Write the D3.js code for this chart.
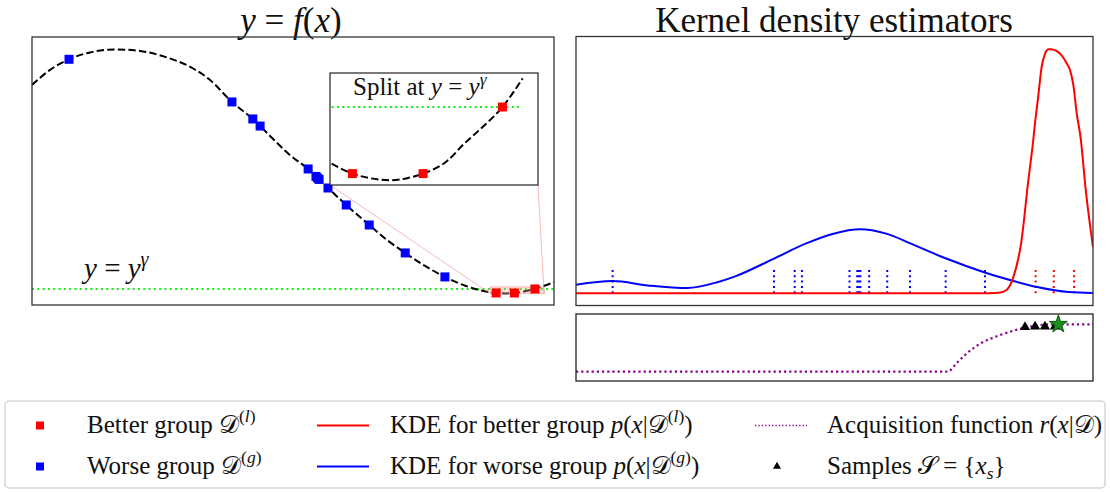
<!DOCTYPE html>
<html>
<head>
<meta charset="utf-8">
<script src="https://cdn.jsdelivr.net/npm/d3@7"></script>
<style>
  body { margin: 0; background: #fff; }
  text { font-family: "Liberation Serif", "Times New Roman", serif; fill: #111; white-space: pre; }
</style>
</head>
<body>
<svg id="chart" width="1110" height="492"></svg>
<script>
// objective curve y = f(x) [x, y]
const fCurve = [
  [0, 0.726], [0.0345, 0.851], [0.0709, 0.939], [0.111, 0.996], [0.159, 1.021],
  [0.207, 1.008], [0.255, 0.959], [0.303, 0.876], [0.341, 0.768], [0.383, 0.585],
  [0.423, 0.444], [0.456, 0.303], [0.494, 0.145], [0.529, 0.029], [0.567, -0.129],
  [0.602, -0.270], [0.646, -0.436], [0.680, -0.560], [0.715, -0.668], [0.753, -0.776],
  [0.791, -0.867], [0.830, -0.940], [0.8788, -0.9953], [0.8891, -1.0003], [0.8979, -1.0026],
  [0.9079, -1.0036], [0.9162, -1.0026], [0.9241, -1.0003], [0.9361, -0.9939], [0.9443, -0.9855],
  [0.9526, -0.9779], [0.9634, -0.9670], [0.9734, -0.9527], [1.0, -0.910]
];

// observations
const worseX = [0.0709, 0.383, 0.423, 0.437, 0.529, 0.544, 0.547, 0.550, 0.567, 0.602, 0.646, 0.715, 0.791];
const worseY = [0.939, 0.585, 0.444, 0.385, 0.029, -0.033, -0.046, -0.058, -0.129, -0.270, -0.436, -0.668, -0.867];
const betterX = [0.8891, 0.9241, 0.9634];
const betterY = [-1.0003, -1.0003, -0.967];
const yGamma = -0.967;

// zoomed window shown in the inset
const insetX = [0.878, 0.981];
const insetY = [-1.006, -0.950];
const insetCurveRange = [0.8788, 0.9734];

// kernel density estimates  [x, density]
const kdeWorse = [
  [0, 0.035], [0.0708, 0.0497], [0.139, 0.032], [0.215, 0.021], [0.275, 0.046],
  [0.308, 0.069], [0.383, 0.142], [0.444, 0.203], [0.498, 0.244], [0.549, 0.262],
  [0.600, 0.244], [0.648, 0.203], [0.716, 0.142], [0.792, 0.084], [0.841, 0.053],
  [0.892, 0.025], [0.953, 0.0045], [1.0, 0.001]
];
const kdeBetter = [
  [0, 0], [0.800, 0], [0.818, 0.002], [0.832, 0.012], [0.846, 0.066], [0.861, 0.205],
  [0.875, 0.464], [0.8845, 0.628], [0.8878, 0.696], [0.894, 0.805], [0.9007, 0.928],
  [0.907, 0.98], [0.9136, 0.9996], [0.919, 1.0], [0.9317, 0.99], [0.9414, 0.969],
  [0.949, 0.942], [0.9555, 0.915], [0.962, 0.853], [0.9685, 0.737], [0.9762, 0.635],
  [0.986, 0.422], [1.0, 0.189]
];
const rugHeight = 0.105;

// acquisition function r(x|D) and samples
const acquisition = [
  [0, 0], [0.719, 0], [0.736, 0.177], [0.756, 0.388], [0.783, 0.599],
  [0.817, 0.759], [0.851, 0.880], [0.878, 0.949], [0.919, 1.0], [1.0, 1.0]
];
const sampleX = [0.8685, 0.888, 0.907, 0.9265];
const sampleY = [0.94, 0.95, 0.95, 0.95];
const bestX = 0.933, bestY = 1.0;

const svg = d3.select('#chart');

// math-ish text: parts are [string, flags] with i = italic, ^ = superscript, _ = subscript
const mtext = (parent, x, y, parts, size, anchor = 'start') => {
  const t = parent.append('text')
    .attr('x', x).attr('y', y)
    .attr('font-size', size)
    .attr('text-anchor', anchor);
  let shift = 0;
  for (const [s, st = ''] of parts) {
    const sp = t.append('tspan').text(s);
    const target = st.includes('^') ? -0.42 * size : st.includes('_') ? 0.2 * size : 0;
    if (target !== shift) { sp.attr('dy', target - shift); shift = target; }
    if (st.includes('^') || st.includes('_')) sp.attr('font-size', size * 0.7);
    if (st.includes('i')) sp.attr('font-style', 'italic');
  }
  return t;
};

const clip = (id, x, y, w, h) => svg.append('clipPath').attr('id', id)
  .append('rect').attr('x', x).attr('y', y).attr('width', w).attr('height', h);

const squares = (g, xs, ys, sx, sy, color, size) => g.selectAll(null)
  .data(xs.map((x, i) => [x, ys[i]]))
  .join('rect')
  .attr('x', d => sx(d[0]) - size / 2)
  .attr('y', d => sy(d[1]) - size / 2)
  .attr('width', size).attr('height', size)
  .attr('fill', color);

// ---------- left panel: y = f(x) ----------
const L = { x: 32, y: 37, w: 522, h: 268 };
const xL = d3.scaleLinear([0, 1], [L.x, L.x + L.w]);
const yL = d3.scaleLinear([-1.1, 1.124], [L.y + L.h, L.y]);
clip('clipL', L.x, L.y, L.w, L.h);

mtext(svg, 291, 32, [['y', 'i'], [' = '], ['f', 'i'], ['('], ['x', 'i'], [')']], 35, 'middle');

const left = svg.append('g').attr('clip-path', 'url(#clipL)');
const lineL = d3.line().x(d => xL(d[0])).y(d => yL(d[1])).curve(d3.curveMonotoneX);

left.append('line')
  .attr('x1', xL(0)).attr('x2', xL(1))
  .attr('y1', yL(yGamma)).attr('y2', yL(yGamma))
  .attr('stroke', '#11f011').attr('stroke-width', 2).attr('stroke-dasharray', '2,3.3');

left.append('path').datum(fCurve)
  .attr('d', lineL).attr('fill', 'none')
  .attr('stroke', '#000').attr('stroke-width', 2).attr('stroke-dasharray', '7.4,3.2');

// inset box
const I = { x: 330, y: 73, w: 208, h: 112 };
const xI = d3.scaleLinear(insetX, [I.x, I.x + I.w]);
const yI = d3.scaleLinear(insetY, [I.y + I.h, I.y]);

// zoom indicator and connectors
const pink = 'rgba(240,120,120,0.5)';
left.append('rect')
  .attr('x', xL(insetX[0])).attr('y', yL(insetY[1]))
  .attr('width', xL(insetX[1]) - xL(insetX[0]))
  .attr('height', yL(insetY[0]) - yL(insetY[1]))
  .attr('fill', 'rgba(255,160,160,0.3)').attr('stroke', pink).attr('stroke-width', 1);
left.append('line')
  .attr('x1', I.x).attr('y1', I.y + I.h)
  .attr('x2', xL(insetX[0])).attr('y2', yL(insetY[0]))
  .attr('stroke', pink).attr('stroke-width', 1);
left.append('line')
  .attr('x1', I.x + I.w).attr('y1', I.y + I.h)
  .attr('x2', xL(insetX[1])).attr('y2', yL(insetY[0]))
  .attr('stroke', pink).attr('stroke-width', 1);

squares(left, worseX, worseY, xL, yL, '#0000ff', 9);
squares(left, betterX, betterY, xL, yL, '#ff0000', 9);

mtext(svg, 84, 278, [['y', 'i'], [' = '], ['y', 'i'], ['γ', 'i^']], 29);

svg.append('rect')
  .attr('x', L.x).attr('y', L.y).attr('width', L.w).attr('height', L.h)
  .attr('fill', 'none').attr('stroke', '#333').attr('stroke-width', 1.3);

// inset content
svg.append('rect')
  .attr('x', I.x).attr('y', I.y).attr('width', I.w).attr('height', I.h)
  .attr('fill', '#fff');
clip('clipI', I.x, I.y, I.w, I.h);
const inset = svg.append('g').attr('clip-path', 'url(#clipI)');
const lineI = d3.line().x(d => xI(d[0])).y(d => yI(d[1])).curve(d3.curveMonotoneX);
const insetPts = fCurve.filter(d => d[0] >= insetCurveRange[0] && d[0] <= insetCurveRange[1]);

inset.append('line')
  .attr('x1', xI(insetCurveRange[0])).attr('x2', xI(insetCurveRange[1]))
  .attr('y1', yI(yGamma)).attr('y2', yI(yGamma))
  .attr('stroke', '#11f011').attr('stroke-width', 2).attr('stroke-dasharray', '2,3.3');
inset.append('path').datum(insetPts)
  .attr('d', lineI).attr('fill', 'none')
  .attr('stroke', '#000').attr('stroke-width', 2).attr('stroke-dasharray', '7.4,3.2');
squares(inset, betterX, betterY, xI, yI, '#ff0000', 9);

mtext(svg, 353, 95, [['Split at '], ['y', 'i'], [' = '], ['y', 'i'], ['γ', 'i^']], 25);

svg.append('rect')
  .attr('x', I.x).attr('y', I.y).attr('width', I.w).attr('height', I.h)
  .attr('fill', 'none').attr('stroke', '#222').attr('stroke-width', 1.2);

// ---------- right panel: kernel density estimators ----------
const R = { x: 576, y: 36.5, w: 517, h: 269 };
const xR = d3.scaleLinear([0, 1], [R.x, R.x + R.w]);
const yR = d3.scaleLinear([0, 1], [293.2, 49.2]);
clip('clipR', R.x, R.y, R.w, R.h);

svg.append('text')
  .attr('x', 834).attr('y', 32).attr('font-size', 35).attr('text-anchor', 'middle')
  .text('Kernel density estimators');

const right = svg.append('g').attr('clip-path', 'url(#clipR)');
const lineR = d3.line().x(d => xR(d[0])).y(d => yR(d[1])).curve(d3.curveMonotoneX);

const rug = (xs, color) => right.selectAll(null)
  .data(xs).join('line')
  .attr('x1', d => xR(d)).attr('x2', d => xR(d))
  .attr('y1', yR(0)).attr('y2', yR(rugHeight))
  .attr('stroke', color).attr('stroke-width', 2).attr('stroke-dasharray', '2,3.3');
rug(worseX, '#0000ff');
rug(betterX, '#ff0000');

right.append('path').datum(kdeWorse)
  .attr('d', lineR).attr('fill', 'none').attr('stroke', '#0000ff').attr('stroke-width', 2);
right.append('path').datum(kdeBetter)
  .attr('d', lineR).attr('fill', 'none').attr('stroke', '#ff0000').attr('stroke-width', 2);

svg.append('rect')
  .attr('x', R.x).attr('y', R.y).attr('width', R.w).attr('height', R.h)
  .attr('fill', 'none').attr('stroke', '#333').attr('stroke-width', 1.3);

// ---------- bottom panel: acquisition function ----------
const B = { x: 576, y: 314, w: 517, h: 67 };
const yB = d3.scaleLinear([0, 1], [371.7, 324.3]);
clip('clipB', B.x, B.y, B.w, B.h);
const bottom = svg.append('g').attr('clip-path', 'url(#clipB)');

bottom.append('path').datum(acquisition)
  .attr('d', d3.line().x(d => xR(d[0])).y(d => yB(d[1])).curve(d3.curveMonotoneX))
  .attr('fill', 'none').attr('stroke', '#8b008b').attr('stroke-width', 2.2)
  .attr('stroke-dasharray', '2.2,3');

const tri = d3.symbol(d3.symbolTriangle, 45);
bottom.selectAll(null)
  .data(sampleX.map((x, i) => [x, sampleY[i]]))
  .join('path')
  .attr('d', tri)
  .attr('transform', d => `translate(${xR(d[0])},${yB(d[1])})`)
  .attr('fill', '#000');

bottom.append('path')
  .attr('d', d3.symbol(d3.symbolStar, 100))
  .attr('transform', `translate(${xR(bestX)},${yB(bestY)})`)
  .attr('fill', '#1a8f1a').attr('stroke', '#0b5e0b').attr('stroke-width', 1);

svg.append('rect')
  .attr('x', B.x).attr('y', B.y).attr('width', B.w).attr('height', B.h)
  .attr('fill', 'none').attr('stroke', '#222').attr('stroke-width', 1.3);

// ---------- legend ----------
const leg = svg.append('g');
leg.append('rect')
  .attr('x', 5).attr('y', 401).attr('width', 1100).attr('height', 87).attr('rx', 4)
  .attr('fill', '#fff').attr('stroke', '#d6d6d6').attr('stroke-width', 1.5);

const row = [425.5, 466.5];
const fs = 25;
const D = '\u{1D49F}', S = '\u{1D4AE}';

leg.append('rect').attr('x', 36).attr('y', row[0] - 4).attr('width', 8).attr('height', 8).attr('fill', '#ff0000');
leg.append('rect').attr('x', 36).attr('y', row[1] - 4).attr('width', 8).attr('height', 8).attr('fill', '#0000ff');
mtext(leg, 87, row[0] + 7, [['Better group '], [D], ['(', '^'], ['l', 'i^'], [')', '^']], fs);
mtext(leg, 87, row[1] + 7, [['Worse group '], [D], ['(', '^'], ['g', 'i^'], [')', '^']], fs);

leg.append('line').attr('x1', 317).attr('x2', 369).attr('y1', row[0]).attr('y2', row[0])
  .attr('stroke', '#ff0000').attr('stroke-width', 2);
leg.append('line').attr('x1', 317).attr('x2', 369).attr('y1', row[1]).attr('y2', row[1])
  .attr('stroke', '#0000ff').attr('stroke-width', 2);
mtext(leg, 390, row[0] + 7, [['KDE for better group '], ['p', 'i'], ['('], ['x', 'i'], ['|'], [D], ['(', '^'], ['l', 'i^'], [')', '^'], [')']], fs);
mtext(leg, 390, row[1] + 7, [['KDE for worse group '], ['p', 'i'], ['('], ['x', 'i'], ['|'], [D], ['(', '^'], ['g', 'i^'], [')', '^'], [')']], fs);

leg.append('line').attr('x1', 755).attr('x2', 807).attr('y1', row[0]).attr('y2', row[0])
  .attr('stroke', '#8b008b').attr('stroke-width', 1.3).attr('stroke-dasharray', '1.3,2.1');
leg.append('path').attr('d', d3.symbol(d3.symbolTriangle, 28))
  .attr('transform', `translate(777,${row[1]})`).attr('fill', '#000');
mtext(leg, 827, row[0] + 7, [['Acquisition function '], ['r', 'i'], ['('], ['x', 'i'], ['|'], [D], [')']], fs);
mtext(leg, 827, row[1] + 7, [['Samples '], [S], [' = {'], ['x', 'i'], ['s', 'i_'], ['}']], fs);
</script>
</body>
</html>
